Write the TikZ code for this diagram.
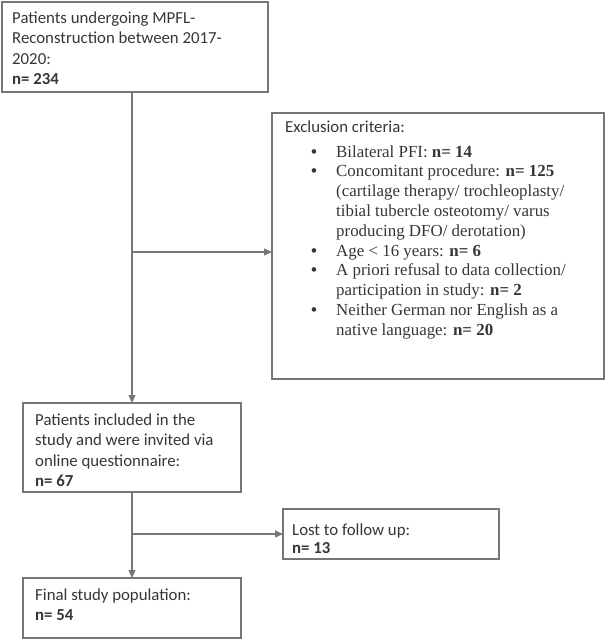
\documentclass[tikz,border=0pt]{standalone}
\usepackage{fontspec}
\setmainfont{Carlito}
\newfontfamily\tnr{Liberation Serif}
\usetikzlibrary{arrows.meta}
\definecolor{txt}{HTML}{363636}
\definecolor{ln}{HTML}{767676}
\newcommand\bul{\hspace{5pt}\textbf{\textbullet}}
\begin{document}
\begin{tikzpicture}[x=1pt,y=-1pt,
  box/.style={draw=ln, line width=1.3pt, anchor=north west, inner sep=0pt, outer sep=0pt},
  lbl/.style={anchor=base west, inner sep=0pt, text=txt, font=\fontsize{16.8}{20.5}\selectfont},
  arr/.style={draw=ln, line width=1.3pt, -{Triangle[length=8pt,width=7pt]}},
  con/.style={draw=ln, line width=1.3pt}]
\useasboundingbox (0,0) rectangle (606,640);
% boxes
\node[box, minimum width=266pt, minimum height=90pt] (b1) at (2,2) {};
\node[box, minimum width=332pt, minimum height=266pt] (ex) at (272,113) {};
\node[box, minimum width=218pt, minimum height=89pt] (b2) at (23,403) {};
\node[box, minimum width=216pt, minimum height=50pt] (lost) at (283,509) {};
\node[box, minimum width=218pt, minimum height=60pt] (b3) at (23,578) {};
% texts
\node[lbl] (t1) at (12,23) {\begin{tabular}[t]{@{}l@{}}Patients undergoing MPFL-\\Reconstruction between 2017-\\2020:\\\textbf{n= 234}\end{tabular}};
\node[lbl] (tex) at (285,132) {Exclusion criteria:};
\node[lbl, font=\tnr\fontsize{16.9}{19.8}\selectfont] (tlist) at (306,157) {\begin{tabular}[t]{@{}p{30pt}@{}l@{}}
\bul & Bilateral PFI: \textbf{n= 14}\\
\bul & Concomitant procedure: \textbf{n= 125}\\
 & (cartilage therapy/ trochleoplasty/\\
 & tibial tubercle osteotomy/ varus\\
 & producing DFO/ derotation)\\
\bul & Age < 16 years: \textbf{n= 6}\\
\bul & A priori refusal to data collection/\\
 & participation in study: \textbf{n= 2}\\
\bul & Neither German nor English as a\\
 & native language: \textbf{n= 20}
\end{tabular}};
\node[lbl] (t2) at (35,425) {\begin{tabular}[t]{@{}l@{}}Patients included in the\\study and were invited via\\online questionnaire:\\\textbf{n= 67}\end{tabular}};
\node[lbl] (tl) at (292,535) {\begin{tabular}[t]{@{}l@{}}Lost to follow up:\\[-2.5pt]\textbf{n= 13}\end{tabular}};
\node[lbl] (t3) at (35,600) {\begin{tabular}[t]{@{}l@{}}Final study population:\\\textbf{n= 54}\end{tabular}};
% connectors
\coordinate (j1) at (132,92);
\coordinate (k1) at (132,252);
\draw[arr] (j1) -- (b2.north);
\draw[arr] (k1) -- (k1 -| ex.west);
\draw[arr] (b2.south) -- (b3.north);
\draw[arr] (b2.south |- lost.west) -- (lost.west);
\end{tikzpicture}
\end{document}
